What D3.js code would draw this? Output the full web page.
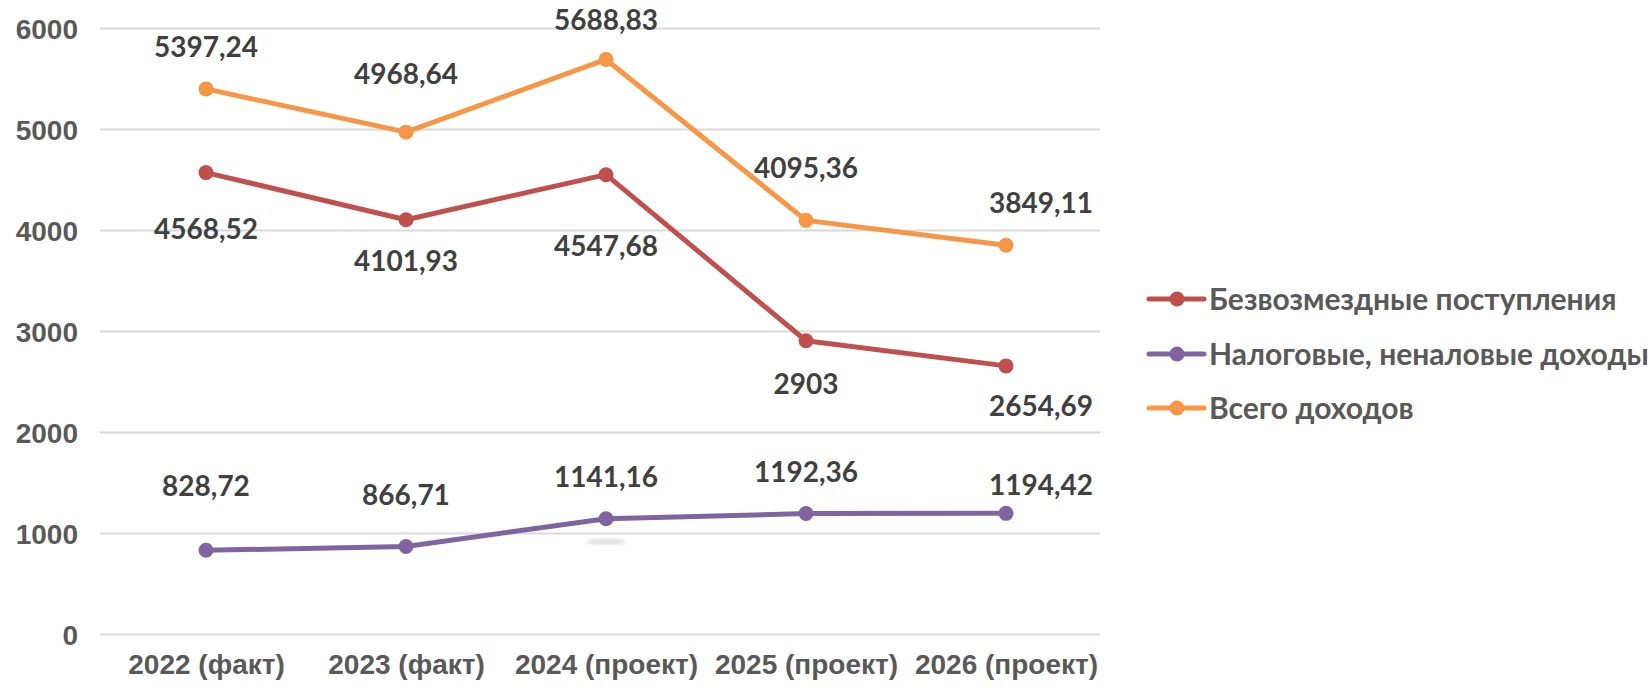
<!DOCTYPE html>
<html>
<head>
<meta charset="utf-8">
<script src="https://cdn.jsdelivr.net/npm/d3@7"></script>
<style>
  body { margin: 0; background: #fff; }
  svg { display: block; font-family: Lato, "Open Sans", sans-serif; font-weight: bold; }
</style>
</head>
<body>
<script>
const width = 1649;
const height = 691;

// data
const years = ["2022 (факт)", "2023 (факт)", "2024 (проект)", "2025 (проект)", "2026 (проект)"];
const seriesNames = ["Безвозмездные поступления", "Налоговые, неналовые доходы", "Всего доходов"];
const grants = [4568.52, 4101.93, 4547.68, 2903, 2654.69];
const taxes = [828.72, 866.71, 1141.16, 1192.36, 1194.42];
const total = [5397.24, 4968.64, 5688.83, 4095.36, 3849.11];
const yTicks = [0, 1000, 2000, 3000, 4000, 5000, 6000];

const colors = ["#C0504D", "#8064A2", "#F79646"];
// label offsets from point (dx, dy of label centre), set by hand like in the original
const labelOffsets = [
    [[0, 56], [0, 41], [0, 71], [0, 43], [35, 40]],
    [[0, -64], [0, -52], [0, -42], [0, -42], [35, -28]],
    [[0, -42], [0, -58], [0, -40], [0, -52], [35, -42]]
];

const series = [grants, taxes, total];

const gridLeft = 100, gridRight = 1100;
const x = d3.scalePoint().domain(years).range([106, 1106]).padding(0.5);
const y = d3.scaleLinear().domain([0, 6000]).range([634, 28]);

const svg = d3.select("body").append("svg")
    .attr("width", width).attr("height", height);

// gridlines + y tick labels
const yAxis = svg.append("g")
    .attr("transform", "translate(" + gridLeft + ",0)")
    .call(d3.axisLeft(y).tickValues(yTicks).tickFormat(d3.format("d"))
        .tickSize(-(gridRight - gridLeft)).tickPadding(22));
yAxis.select(".domain").remove();
yAxis.selectAll(".tick line").attr("stroke", "#D9D9D9").attr("stroke-width", 2);
yAxis.selectAll(".tick text").attr("fill", "#595959").style("font-size", "28px")
    .attr("font-family", null).attr("dy", "0.36em");

// x labels
const xAxis = svg.append("g")
    .attr("transform", "translate(0,634)")
    .call(d3.axisBottom(x).tickSize(0).tickPadding(20));
xAxis.select(".domain").remove();
xAxis.selectAll(".tick text").attr("fill", "#595959").style("font-size", "28px")
    .attr("font-family", null);

// small grey smudge below the 2024 point
const defs = svg.append("defs");
defs.append("filter").attr("id", "blur").append("feGaussianBlur").attr("stdDeviation", 2);
svg.append("ellipse")
    .attr("cx", x(years[2])).attr("cy", y(1141.16) + 23)
    .attr("rx", 20).attr("ry", 2.5)
    .attr("fill", "#d4d4d4").attr("filter", "url(#blur)");

const line = d3.line().x((d, i) => x(years[i])).y(d => y(d));

series.forEach((vals, s) => {
    const g = svg.append("g");
    g.append("path").datum(vals)
        .attr("d", line)
        .attr("fill", "none")
        .attr("stroke", colors[s])
        .attr("stroke-width", 5)
        .attr("stroke-linejoin", "round");
    g.selectAll("circle").data(vals).enter().append("circle")
        .attr("cx", (d, i) => x(years[i]))
        .attr("cy", d => y(d))
        .attr("r", 7.5)
        .attr("fill", colors[s]);
    g.selectAll("text").data(vals).enter().append("text")
        .attr("x", (d, i) => x(years[i]) + labelOffsets[s][i][0])
        .attr("y", (d, i) => y(d) + labelOffsets[s][i][1])
        .attr("dy", "0.36em")
        .attr("text-anchor", "middle")
        .attr("fill", "#404040")
        .style("font-size", "28px")
        .text(d => String(d).replace(".", ","));
});

// legend
const legendY = [299, 354, 408];
const legend = svg.append("g");
seriesNames.forEach((name, i) => {
    const row = legend.append("g").attr("transform", "translate(1149," + legendY[i] + ")");
    row.append("line").attr("x1", 0).attr("x2", 55).attr("y1", 0).attr("y2", 0)
        .attr("stroke", colors[i]).attr("stroke-width", 5).attr("stroke-linecap", "round");
    row.append("circle").attr("cx", 28).attr("cy", 0).attr("r", 7.5).attr("fill", colors[i]);
    row.append("text").attr("x", 60).attr("dy", "0.36em")
        .attr("fill", "#595959").style("font-size", "30px")
        .text(name);
});
</script>
</body>
</html>
